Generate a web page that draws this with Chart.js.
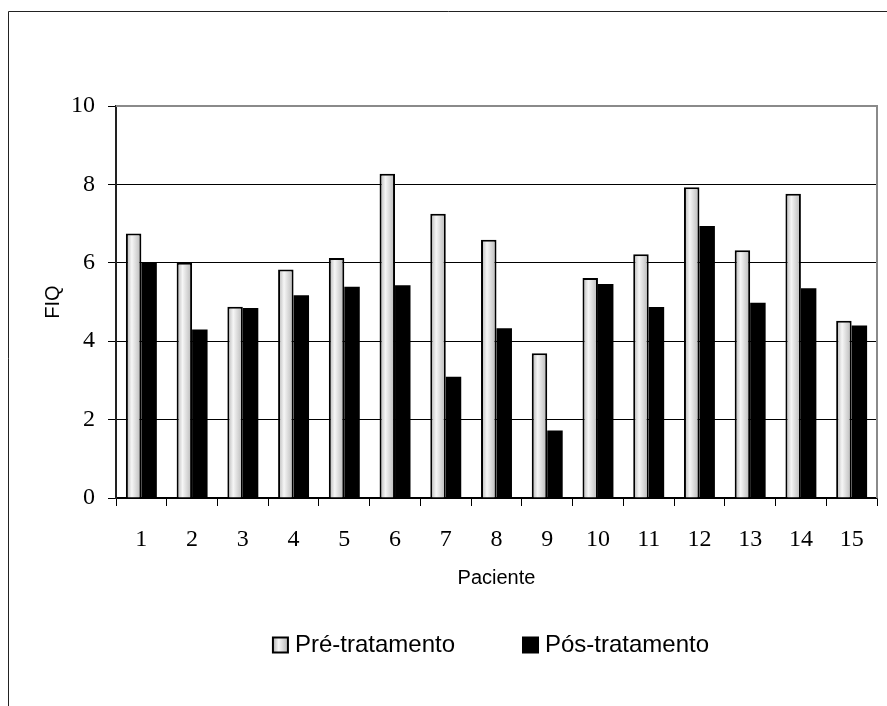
<!DOCTYPE html>
<html>
<head>
<meta charset="utf-8">
<script src="https://cdn.jsdelivr.net/npm/chart.js@4.4.1/dist/chart.umd.min.js"></script>
<style>
  body { margin: 0; background: #fff; }
  canvas { display: block; }
</style>
</head>
<body>
<canvas id="fiqChart" width="887" height="706"></canvas>
<script>
const pacientes = ['1', '2', '3', '4', '5', '6', '7', '8', '9', '10', '11', '12', '13', '14', '15']
const preTratamento = [6.75, 6.0, 4.88, 5.83, 6.12, 8.27, 7.25, 6.59, 3.69, 5.61, 6.22, 7.93, 6.32, 7.76, 4.52]
const posTratamento = [6.0, 4.3, 4.85, 5.17, 5.39, 5.43, 3.09, 4.33, 1.72, 5.46, 4.87, 6.94, 4.98, 5.35, 4.4]
const yTicks = [0, 2, 4, 6, 8, 10]

const catPct = 0.61
const sansFont = "'Liberation Sans', Arial, sans-serif"
const serifFont = "'Liberation Serif', 'Times New Roman', serif"

function shadeGradient(ctx, left, right) {
    const g = ctx.createLinearGradient(left, 0, right, 0)
    g.addColorStop(0, '#b0b0b0')
    g.addColorStop(0.38, '#f6f6f6')
    g.addColorStop(1, '#b6b6b6')
    return g
}

// horizontal grey-white-grey shading like the original
function preFill(context) {
    const chart = context.chart
    const xs = chart.scales.x
    if (context.type !== 'data' || !xs || !xs.width) return '#c8c8c8'
    const c = xs.getPixelForValue(context.dataIndex)
    const w = xs.width / pacientes.length * catPct / 2
    return shadeGradient(chart.ctx, c - w, c)
}

const framePlugin = {
    id: 'frame',
    beforeDraw(chart) {
        const ctx = chart.ctx
        ctx.save()
        ctx.fillStyle = '#fff'
        ctx.fillRect(0, 0, chart.width, chart.height)
        ctx.strokeStyle = '#222'
        ctx.lineWidth = 1
        ctx.beginPath()
        ctx.moveTo(8.5, chart.height)
        ctx.lineTo(8.5, 11.5)
        ctx.lineTo(chart.width + 2, 11.5)
        ctx.stroke()
        ctx.restore()
    },
    afterDatasetsDraw(chart) {
        const { ctx, chartArea } = chart
        ctx.save()
        ctx.strokeStyle = '#8a8a8a'
        ctx.lineWidth = 2
        ctx.beginPath()
        ctx.moveTo(chartArea.left, chartArea.top)
        ctx.lineTo(chartArea.right, chartArea.top)
        ctx.lineTo(chartArea.right, chartArea.bottom)
        ctx.stroke()
        ctx.restore()
    }
}

const legendPlugin = {
    id: 'bottomLegend',
    afterDraw(chart) {
        const ctx = chart.ctx
        const sets = chart.data.datasets
        ctx.save()
        ctx.font = '24px ' + sansFont
        ctx.textBaseline = 'middle'
        const box = 15, gapText = 7, gapItem = 68
        let total = 0
        sets.forEach((ds, i) => {
            total += box + gapText + ctx.measureText(ds.label).width
            if (i < sets.length - 1) total += gapItem
        })
        let x = 491 - total / 2
        const y = 645
        sets.forEach(ds => {
            ctx.fillStyle = ds.legendFill === 'shade' ? shadeGradient(ctx, x, x + box) : ds.backgroundColor
            ctx.fillRect(x, y - box / 2, box, box)
            ctx.strokeStyle = '#000'
            ctx.lineWidth = 2
            ctx.strokeRect(x, y - box / 2, box, box)
            x += box + gapText
            ctx.fillStyle = '#000'
            ctx.fillText(ds.label, x, y)
            x += ctx.measureText(ds.label).width + gapItem
        })
        ctx.restore()
    }
}

new Chart(document.getElementById('fiqChart'), {
    type: 'bar',
    data: {
        labels: pacientes,
        datasets: [{
            label: 'Pré-tratamento',
            data: preTratamento,
            backgroundColor: preFill,
            legendFill: 'shade',
            borderColor: '#000',
            borderWidth: 2,
            categoryPercentage: catPct,
            barPercentage: 1
        }, {
            label: 'Pós-tratamento',
            data: posTratamento,
            backgroundColor: '#000',
            borderWidth: 0,
            categoryPercentage: catPct,
            barPercentage: 1
        }]
    },
    options: {
        responsive: false,
        animation: false,
        devicePixelRatio: 1,
        layout: { padding: { top: 106, right: 10, left: 0, bottom: 0 } },
        plugins: {
            legend: { display: false },
            tooltip: { enabled: false }
        },
        scales: {
            x: {
                grid: {
                    offset: true,
                    drawOnChartArea: false,
                    drawTicks: true,
                    tickLength: 8,
                    tickColor: '#000',
                    lineWidth: 1
                },
                border: { display: true, color: '#000', width: 1.5 },
                ticks: {
                    color: '#000',
                    font: { family: serifFont, size: 24 },
                    padding: 19,
                    maxRotation: 0
                },
                title: {
                    display: true,
                    text: 'Paciente',
                    color: '#000',
                    font: { family: sansFont, size: 20 },
                    padding: { top: 0, bottom: 116 }
                },
                afterFit(axis) { axis.height = 208 }
            },
            y: {
                min: 0,
                max: 10,
                afterBuildTicks(axis) { axis.ticks = yTicks.map(v => ({ value: v })) },
                grid: {
                    color: c => c.tick && c.tick.value === 10 ? 'rgba(0,0,0,0)' : '#000',
                    lineWidth: 1,
                    drawTicks: true,
                    tickLength: 8,
                    tickColor: '#000'
                },
                border: { display: true, color: '#222', width: 2 },
                ticks: {
                    color: '#000',
                    font: { family: serifFont, size: 24 },
                    padding: 13
                },
                title: {
                    display: true,
                    text: 'FIQ',
                    color: '#000',
                    font: { family: sansFont, size: 20 },
                    padding: { top: 41, bottom: 0 }
                },
                afterFit(axis) { axis.width = 116 }
            }
        }
    },
    plugins: [framePlugin, legendPlugin]
})
</script>
</body>
</html>
